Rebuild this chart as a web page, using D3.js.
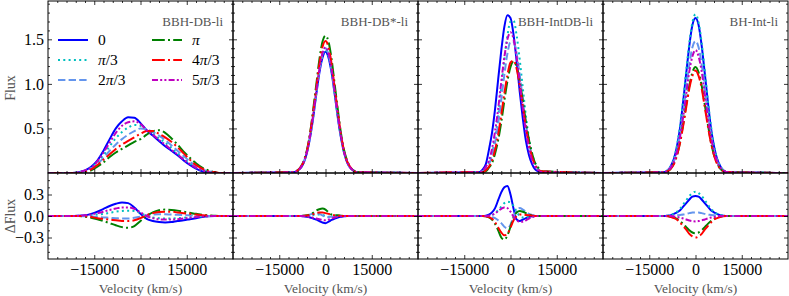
<!DOCTYPE html>
<html>
<head>
<meta charset="utf-8">
<script src="https://cdn.jsdelivr.net/npm/d3@7"></script>
<style>
  body { margin: 0; background: #fff; }
  svg text { font-family: "Liberation Serif", "DejaVu Serif", serif; }
</style>
</head>
<body>
<div id="chart"></div>
<script>
// phases, one line per phase, same order in every panel
var phases = ["0", "π/3", "2π/3", "π", "4π/3", "5π/3"];
var panelNames = ["BBH-DB-li", "BBH-DB*-li", "BBH-IntDB-li", "BH-Int-li"];

// velocity grids (km/s)
var velWide = [-30000, -22000, -20000, -18000, -16000, -14000, -12000, -10000, -8000, -6000, -4000, -2000, 0,
  2000, 4000, 6000, 8000, 10000, 12000, 14000, 16000, 18000, 20000, 22000, 24000, 26000, 30000];
var velNarrow = [-30000, -10000, -9000, -8000, -7000, -6000, -5000, -4000, -3000, -2000, -1000, 0,
  1000, 2000, 3000, 4000, 5000, 6000, 7000, 8000, 9000, 10000, 30000];

// BBH-DB-li (velWide)
var fluxDB = [
  [0, 0.00, 0.01, 0.03, 0.07, 0.14, 0.25, 0.38, 0.50, 0.58, 0.625, 0.62, 0.56, 0.48, 0.42, 0.36, 0.30, 0.25, 0.20, 0.14, 0.09, 0.05, 0.02, 0.01, 0.00, 0.00, 0],
  [0, 0.00, 0.01, 0.02, 0.06, 0.12, 0.20, 0.30, 0.39, 0.46, 0.51, 0.54, 0.53, 0.48, 0.44, 0.39, 0.34, 0.28, 0.22, 0.16, 0.11, 0.06, 0.03, 0.01, 0.00, 0.00, 0],
  [0, 0.00, 0.01, 0.02, 0.05, 0.10, 0.17, 0.25, 0.32, 0.38, 0.43, 0.47, 0.50, 0.49, 0.46, 0.42, 0.37, 0.31, 0.25, 0.19, 0.13, 0.08, 0.04, 0.02, 0.01, 0.00, 0],
  [0, 0.00, 0.00, 0.01, 0.03, 0.07, 0.12, 0.18, 0.23, 0.27, 0.31, 0.35, 0.38, 0.43, 0.47, 0.48, 0.45, 0.39, 0.32, 0.24, 0.17, 0.11, 0.06, 0.03, 0.01, 0.00, 0],
  [0, 0.00, 0.00, 0.02, 0.04, 0.09, 0.15, 0.21, 0.27, 0.32, 0.36, 0.40, 0.44, 0.47, 0.47, 0.44, 0.40, 0.35, 0.29, 0.22, 0.15, 0.09, 0.05, 0.02, 0.01, 0.00, 0],
  [0, 0.00, 0.01, 0.03, 0.06, 0.13, 0.23, 0.34, 0.45, 0.53, 0.57, 0.58, 0.55, 0.48, 0.43, 0.37, 0.32, 0.26, 0.21, 0.15, 0.10, 0.06, 0.03, 0.01, 0.00, 0.00, 0]
];
var dfluxDB = [
  [0, 0, 0.005, 0.01, 0.03, 0.06, 0.10, 0.14, 0.17, 0.19, 0.18, 0.12, 0.03, -0.04, -0.07, -0.085, -0.09, -0.085, -0.07, -0.06, -0.045, -0.03, -0.015, -0.005, 0, 0, 0],
  [0, 0, 0, 0.003, 0.01, 0.02, 0.03, 0.045, 0.06, 0.07, 0.075, 0.07, 0.04, 0.0, -0.02, -0.03, -0.035, -0.035, -0.03, -0.025, -0.018, -0.012, -0.006, -0.002, 0, 0, 0],
  [0, 0, 0, -0.003, -0.008, -0.015, -0.02, -0.025, -0.03, -0.035, -0.035, -0.025, -0.01, 0.01, 0.02, 0.025, 0.025, 0.02, 0.018, 0.014, 0.01, 0.006, 0.003, 0, 0, 0, 0],
  [0, 0, 0, -0.01, -0.025, -0.045, -0.07, -0.10, -0.13, -0.155, -0.165, -0.14, -0.07, 0.0, 0.05, 0.08, 0.09, 0.085, 0.075, 0.06, 0.045, 0.03, 0.018, 0.008, 0.003, 0, 0],
  [0, 0, 0, -0.005, -0.015, -0.03, -0.04, -0.05, -0.06, -0.07, -0.07, -0.06, -0.03, 0.01, 0.04, 0.055, 0.06, 0.06, 0.05, 0.04, 0.03, 0.02, 0.01, 0.005, 0, 0, 0],
  [0, 0, 0.003, 0.01, 0.02, 0.04, 0.06, 0.085, 0.105, 0.12, 0.12, 0.10, 0.05, 0.0, -0.03, -0.045, -0.05, -0.05, -0.045, -0.035, -0.025, -0.016, -0.008, -0.003, 0, 0, 0]
];

// BBH-DB*-li (velNarrow)
var fluxDBstar = [
  [0, 0.01, 0.03, 0.06, 0.12, 0.23, 0.40, 0.62, 0.88, 1.12, 1.29, 1.36, 1.29, 1.12, 0.88, 0.62, 0.40, 0.23, 0.12, 0.06, 0.03, 0.01, 0],
  [0, 0.01, 0.03, 0.06, 0.13, 0.24, 0.41, 0.63, 0.89, 1.14, 1.31, 1.38, 1.31, 1.14, 0.89, 0.63, 0.41, 0.24, 0.13, 0.06, 0.03, 0.01, 0],
  [0, 0.01, 0.03, 0.06, 0.13, 0.24, 0.41, 0.64, 0.90, 1.15, 1.33, 1.40, 1.33, 1.15, 0.90, 0.64, 0.41, 0.24, 0.13, 0.06, 0.03, 0.01, 0],
  [0, 0.01, 0.03, 0.07, 0.14, 0.26, 0.45, 0.71, 0.99, 1.27, 1.47, 1.54, 1.47, 1.27, 0.99, 0.71, 0.45, 0.26, 0.14, 0.07, 0.03, 0.01, 0],
  [0, 0.01, 0.03, 0.07, 0.13, 0.25, 0.44, 0.68, 0.95, 1.22, 1.41, 1.48, 1.41, 1.22, 0.95, 0.68, 0.44, 0.25, 0.13, 0.07, 0.03, 0.01, 0],
  [0, 0.01, 0.03, 0.06, 0.13, 0.24, 0.42, 0.65, 0.91, 1.16, 1.34, 1.41, 1.34, 1.16, 0.91, 0.65, 0.42, 0.24, 0.13, 0.06, 0.03, 0.01, 0]
];
var dfluxDBstar = [
  [0, 0, 0, 0, -0.005, -0.01, -0.02, -0.035, -0.05, -0.07, -0.09, -0.10, -0.08, -0.055, -0.035, -0.02, -0.01, -0.005, 0, 0, 0, 0, 0],
  [0, 0, 0, 0, 0, 0.003, 0.008, 0.015, 0.02, 0.02, 0.015, 0, -0.01, -0.01, -0.005, 0, 0, 0, 0, 0, 0, 0, 0],
  [0, 0, 0, 0, 0.003, 0.008, 0.02, 0.035, 0.04, 0.03, 0.01, -0.01, -0.015, -0.01, -0.005, 0, 0, 0, 0, 0, 0, 0, 0],
  [0, 0, 0, 0, 0.005, 0.01, 0.02, 0.045, 0.075, 0.095, 0.105, 0.09, 0.05, 0.02, 0.01, 0.01, 0.005, 0, 0, 0, 0, 0, 0],
  [0, 0, 0, 0, 0.003, 0.006, 0.012, 0.025, 0.04, 0.05, 0.05, 0.04, 0.03, 0.02, 0.01, 0.005, 0, 0, 0, 0, 0, 0, 0],
  [0, 0, 0, 0, -0.003, -0.008, -0.015, -0.025, -0.035, -0.045, -0.055, -0.06, -0.05, -0.035, -0.02, -0.01, -0.005, 0, 0, 0, 0, 0, 0]
];

// BBH-IntDB-li (velNarrow)
var fluxIntDB = [
  [0, 0.01, 0.04, 0.10, 0.26, 0.45, 0.72, 1.05, 1.37, 1.64, 1.77, 1.74, 1.55, 1.25, 0.91, 0.61, 0.36, 0.20, 0.10, 0.04, 0.02, 0.01, 0],
  [0, 0.01, 0.02, 0.05, 0.11, 0.22, 0.39, 0.64, 0.95, 1.27, 1.54, 1.70, 1.71, 1.54, 1.27, 0.95, 0.64, 0.39, 0.22, 0.11, 0.05, 0.02, 0],
  [0, 0.01, 0.02, 0.04, 0.10, 0.19, 0.34, 0.55, 0.82, 1.10, 1.34, 1.47, 1.47, 1.34, 1.10, 0.82, 0.55, 0.34, 0.19, 0.10, 0.04, 0.02, 0],
  [0, 0.00, 0.01, 0.02, 0.06, 0.11, 0.22, 0.37, 0.57, 0.81, 1.03, 1.19, 1.25, 1.19, 1.03, 0.81, 0.57, 0.37, 0.22, 0.11, 0.06, 0.02, 0],
  [0, 0.01, 0.01, 0.03, 0.07, 0.14, 0.26, 0.43, 0.65, 0.89, 1.10, 1.24, 1.26, 1.17, 0.98, 0.75, 0.51, 0.32, 0.18, 0.09, 0.04, 0.02, 0],
  [0, 0.01, 0.03, 0.07, 0.14, 0.27, 0.47, 0.72, 1.02, 1.30, 1.50, 1.58, 1.50, 1.30, 1.02, 0.72, 0.47, 0.27, 0.14, 0.07, 0.03, 0.01, 0]
];
var dfluxIntDB = [
  [0, 0, 0, 0.005, 0.02, 0.05, 0.11, 0.22, 0.33, 0.40, 0.42, 0.30, 0.10, -0.05, -0.07, -0.05, -0.03, -0.015, -0.005, 0, 0, 0, 0],
  [0, 0, 0, 0, 0.005, 0.015, 0.04, 0.08, 0.13, 0.18, 0.20, 0.19, 0.14, 0.06, 0, -0.02, -0.02, -0.01, -0.005, 0, 0, 0, 0],
  [0, 0, 0, 0, -0.005, -0.015, -0.03, -0.06, -0.10, -0.15, -0.17, -0.12, -0.01, 0.08, 0.11, 0.09, 0.06, 0.03, 0.015, 0.005, 0, 0, 0],
  [0, 0, 0, -0.005, -0.02, -0.05, -0.11, -0.20, -0.30, -0.33, -0.27, -0.15, -0.02, 0.05, 0.07, 0.06, 0.04, 0.02, 0.01, 0, 0, 0, 0],
  [0, 0, 0, -0.005, -0.015, -0.04, -0.09, -0.16, -0.23, -0.27, -0.25, -0.16, -0.06, 0, 0.02, 0.02, 0.015, 0.01, 0.005, 0, 0, 0, 0],
  [0, 0, 0, 0, 0.005, 0.015, 0.035, 0.07, 0.10, 0.12, 0.11, 0.06, -0.01, -0.06, -0.08, -0.08, -0.06, -0.035, -0.015, -0.005, 0, 0, 0]
];

// BH-Int-li (velNarrow)
var fluxInt = [
  [0, 0.01, 0.03, 0.08, 0.16, 0.30, 0.51, 0.80, 1.12, 1.43, 1.66, 1.74, 1.66, 1.43, 1.12, 0.80, 0.51, 0.30, 0.16, 0.08, 0.03, 0.01, 0],
  [0, 0.01, 0.03, 0.08, 0.16, 0.31, 0.53, 0.82, 1.15, 1.46, 1.69, 1.78, 1.69, 1.46, 1.15, 0.82, 0.53, 0.31, 0.16, 0.08, 0.03, 0.01, 0],
  [0, 0.01, 0.03, 0.07, 0.13, 0.25, 0.44, 0.68, 0.95, 1.22, 1.41, 1.48, 1.41, 1.22, 0.95, 0.68, 0.44, 0.25, 0.13, 0.07, 0.03, 0.01, 0],
  [0, 0.01, 0.02, 0.05, 0.11, 0.20, 0.35, 0.55, 0.77, 0.98, 1.13, 1.19, 1.13, 0.98, 0.77, 0.55, 0.35, 0.20, 0.11, 0.05, 0.02, 0.01, 0],
  [0, 0.01, 0.02, 0.05, 0.10, 0.20, 0.34, 0.53, 0.74, 0.95, 1.09, 1.15, 1.09, 0.95, 0.74, 0.53, 0.34, 0.20, 0.10, 0.05, 0.02, 0.01, 0],
  [0, 0.01, 0.03, 0.06, 0.13, 0.24, 0.41, 0.63, 0.89, 1.14, 1.31, 1.38, 1.31, 1.14, 0.89, 0.63, 0.41, 0.24, 0.13, 0.06, 0.03, 0.01, 0]
];
var dfluxInt = [
  [0, 0, 0.005, 0.01, 0.03, 0.05, 0.08, 0.13, 0.18, 0.23, 0.27, 0.28, 0.27, 0.23, 0.18, 0.13, 0.08, 0.05, 0.03, 0.01, 0.005, 0, 0],
  [0, 0, 0.005, 0.015, 0.03, 0.06, 0.10, 0.16, 0.22, 0.28, 0.32, 0.34, 0.32, 0.28, 0.22, 0.16, 0.10, 0.06, 0.03, 0.015, 0.005, 0, 0],
  [0, 0, 0, 0, 0.005, 0.01, 0.015, 0.02, 0.03, 0.04, 0.048, 0.05, 0.048, 0.04, 0.03, 0.02, 0.015, 0.01, 0.005, 0, 0, 0, 0],
  [0, 0, 0, -0.01, -0.02, -0.04, -0.07, -0.11, -0.155, -0.20, -0.23, -0.24, -0.23, -0.20, -0.155, -0.11, -0.07, -0.04, -0.02, -0.01, 0, 0, 0],
  [0, 0, -0.005, -0.015, -0.03, -0.05, -0.09, -0.14, -0.19, -0.25, -0.285, -0.30, -0.285, -0.25, -0.19, -0.14, -0.09, -0.05, -0.03, -0.015, -0.005, 0, 0],
  [0, 0, 0, 0, -0.007, -0.013, -0.022, -0.034, -0.048, -0.062, -0.071, -0.075, -0.071, -0.062, -0.048, -0.034, -0.022, -0.013, -0.007, 0, 0, 0, 0]
];

// ticks
var xMajor = [-15000, 0, 15000];
var xMinor = [-27000, -24000, -21000, -18000, -12000, -9000, -6000, -3000, 3000, 6000, 9000, 12000, 18000, 21000, 24000, 27000];
var fluxMajor = [0.5, 1.0, 1.5];
var fluxMinor = [0.1, 0.2, 0.3, 0.4, 0.6, 0.7, 0.8, 0.9, 1.1, 1.2, 1.3, 1.4, 1.6, 1.7, 1.8, 1.9];
var dMajor = [-0.3, 0.0, 0.3];
var dMinor = [-0.5, -0.4, -0.2, -0.1, 0.1, 0.2, 0.4, 0.5];

// styles
var colors = ["#0000ff", "#00bfbf", "#6495ed", "#008000", "#ff0000", "#bf00bf"];
var dashes = [null, "2,3.3", "7.4,3.2", "12.8,3.2,2,3.2", "12.8,3.2,2,3.2", "6,2.2,2,2.2,2,2.2"];

var panels = [
  { name: panelNames[0], vel: velWide, flux: fluxDB, dflux: dfluxDB },
  { name: panelNames[1], vel: velNarrow, flux: fluxDBstar, dflux: dfluxDBstar },
  { name: panelNames[2], vel: velNarrow, flux: fluxIntDB, dflux: dfluxIntDB },
  { name: panelNames[3], vel: velNarrow, flux: fluxInt, dflux: dfluxInt }
];

var width = 789, height = 296;
var left = 48, pw = 185;
var topY = 1, midY = 173, botY = 259;

var svg = d3.select("#chart").append("svg")
  .attr("width", width)
  .attr("height", height);

svg.append("rect").attr("width", width).attr("height", height).attr("fill", "#fff");

var x = d3.scaleLinear().domain([-30000, 30000]).range([0, pw]);
var yFlux = d3.scaleLinear().domain([0, 1.93]).range([midY, topY]);
var yDelta = d3.scaleLinear().domain([-0.6, 0.6]).range([botY, midY]);

function tickAxis(g, axis, tx, ty) {
  var a = g.append("g")
    .attr("transform", "translate(" + tx + "," + ty + ")")
    .call(axis);
  a.select(".domain").remove();
  a.selectAll("line").attr("stroke", "#000").attr("stroke-width", 0.8);
  a.selectAll("text")
    .attr("fill", "#000")
    .attr("font-size", 16)
    .attr("font-family", "Liberation Serif, DejaVu Serif, serif");
  return a;
}

panels.forEach(function(p, i) {
  var g = svg.append("g").attr("transform", "translate(" + (left + i * pw) + ",0)");

  // clip regions
  g.append("clipPath").attr("id", "clipTop" + i)
    .append("rect").attr("x", 0).attr("y", topY).attr("width", pw).attr("height", midY - topY);
  g.append("clipPath").attr("id", "clipBot" + i)
    .append("rect").attr("x", 0).attr("y", midY).attr("width", pw).attr("height", botY - midY);

  var lineTop = d3.line()
    .x(function(d, j) { return x(p.vel[j]); })
    .y(function(d) { return yFlux(d); })
    .curve(d3.curveMonotoneX);
  var lineBot = d3.line()
    .x(function(d, j) { return x(p.vel[j]); })
    .y(function(d) { return yDelta(d); })
    .curve(d3.curveMonotoneX);

  var gTop = g.append("g").attr("clip-path", "url(#clipTop" + i + ")");
  var gBot = g.append("g").attr("clip-path", "url(#clipBot" + i + ")");

  p.flux.forEach(function(s, k) {
    gTop.append("path")
      .datum(s)
      .attr("d", lineTop)
      .attr("fill", "none")
      .attr("stroke", colors[k])
      .attr("stroke-width", 2)
      .attr("stroke-dasharray", dashes[k]);
  });
  p.dflux.forEach(function(s, k) {
    gBot.append("path")
      .datum(s)
      .attr("d", lineBot)
      .attr("fill", "none")
      .attr("stroke", colors[k])
      .attr("stroke-width", 2)
      .attr("stroke-dasharray", dashes[k]);
  });

  // ticks, inward on all sides
  [[xMajor, 4], [xMinor, 2]].forEach(function(t) {
    tickAxis(g, d3.axisTop(x).tickValues(t[0]).tickSize(-t[1]).tickFormat(""), 0, topY);
    tickAxis(g, d3.axisBottom(x).tickValues(t[0]).tickSize(-t[1]).tickFormat(""), 0, midY);
    tickAxis(g, d3.axisTop(x).tickValues(t[0]).tickSize(-t[1]).tickFormat(""), 0, midY);
  });
  tickAxis(g, d3.axisBottom(x).tickValues(xMajor).tickSize(-4).tickPadding(5).tickFormat(d3.format("d")), 0, botY);
  tickAxis(g, d3.axisBottom(x).tickValues(xMinor).tickSize(-2).tickFormat(""), 0, botY);

  var showY = (i === 0);
  tickAxis(g, d3.axisLeft(yFlux).tickValues(fluxMajor).tickSize(-4).tickPadding(4)
    .tickFormat(showY ? d3.format(".1f") : ""), 0, 0);
  tickAxis(g, d3.axisLeft(yFlux).tickValues(fluxMinor).tickSize(-2).tickFormat(""), 0, 0);
  tickAxis(g, d3.axisRight(yFlux).tickValues(fluxMajor).tickSize(-4).tickFormat(""), pw, 0);
  tickAxis(g, d3.axisRight(yFlux).tickValues(fluxMinor).tickSize(-2).tickFormat(""), pw, 0);
  tickAxis(g, d3.axisLeft(yDelta).tickValues(dMajor).tickSize(-4).tickPadding(4)
    .tickFormat(showY ? d3.format(".1f") : ""), 0, 0);
  tickAxis(g, d3.axisLeft(yDelta).tickValues(dMinor).tickSize(-2).tickFormat(""), 0, 0);
  tickAxis(g, d3.axisRight(yDelta).tickValues(dMajor).tickSize(-4).tickFormat(""), pw, 0);
  tickAxis(g, d3.axisRight(yDelta).tickValues(dMinor).tickSize(-2).tickFormat(""), pw, 0);

  // frames
  g.append("rect").attr("x", 0).attr("y", topY).attr("width", pw).attr("height", midY - topY)
    .attr("fill", "none").attr("stroke", "#000").attr("stroke-width", 1);
  g.append("rect").attr("x", 0).attr("y", midY).attr("width", pw).attr("height", botY - midY)
    .attr("fill", "none").attr("stroke", "#000").attr("stroke-width", 1);

  // panel name
  g.append("text")
    .text(p.name)
    .attr("x", pw - 10)
    .attr("y", 26)
    .attr("text-anchor", "end")
    .attr("font-size", 13)
    .attr("fill", "#555");

  // x label
  g.append("text")
    .text("Velocity (km/s)")
    .attr("x", pw / 2)
    .attr("y", 293)
    .attr("text-anchor", "middle")
    .attr("font-size", 13.5)
    .attr("fill", "#555");
});

// y labels
svg.append("text")
  .text("Flux")
  .attr("transform", "translate(15,88) rotate(-90)")
  .attr("text-anchor", "middle")
  .attr("font-size", 14)
  .attr("fill", "#555");
svg.append("text")
  .text("ΔFlux")
  .attr("transform", "translate(15,216) rotate(-90)")
  .attr("text-anchor", "middle")
  .attr("font-size", 14)
  .attr("fill", "#555");

// legend, two columns of three
var legend = svg.append("g").attr("transform", "translate(" + left + ",0)");
phases.forEach(function(ph, k) {
  var col = Math.floor(k / 3), row = k % 3;
  var lx = 10 + col * 94, ly = 40 + row * 20;
  legend.append("line")
    .attr("x1", lx).attr("x2", lx + 30)
    .attr("y1", ly).attr("y2", ly)
    .attr("stroke", colors[k])
    .attr("stroke-width", 2)
    .attr("stroke-dasharray", dashes[k]);
  var t = legend.append("text")
    .attr("x", lx + 40)
    .attr("y", ly + 5)
    .attr("font-size", 15.5)
    .attr("fill", "#000");
  ph.split(/(π)/).forEach(function(part) {
    if (part === "") return;
    t.append("tspan")
      .attr("font-style", part === "π" ? "italic" : null)
      .text(part);
  });
});
</script>
</body>
</html>
